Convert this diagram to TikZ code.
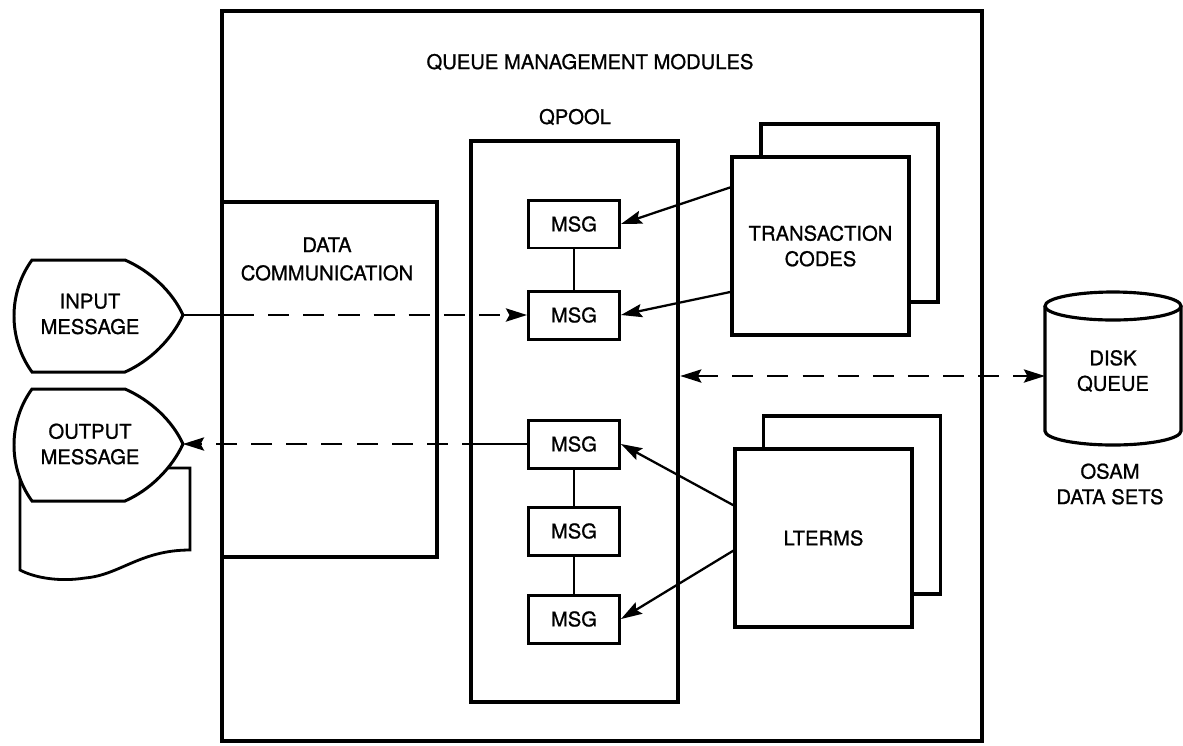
\documentclass[tikz,border=0pt]{standalone}
\usepackage{fontspec}
\setmainfont{TeX Gyre Heros}
\newfontfamily\labelfont{TeX Gyre Heros}[FakeBold=0.9]
\usepackage{tikz}
\usetikzlibrary{arrows.meta}

\begin{document}
\begin{tikzpicture}[x=0.02cm, y=-0.02cm,
    font=\labelfont\fontsize{11.5}{14.5}\selectfont,
    box/.style={draw, line width=1.8pt, inner sep=0pt},
    msgbox/.style={box, line width=1.7pt, minimum width=1.82cm, minimum height=0.96cm},
    stackbox/.style={box, line width=2pt, fill=white, minimum width=3.54cm, minimum height=3.56cm, align=center},
    headed/.style={-{Stealth[length=12pt, width=7.5pt, inset=2pt]}},
    link/.style={line width=1.3pt},
    dashlink/.style={link, dash pattern=on 12pt off 8pt}]
    \useasboundingbox (0,0) rectangle (1183,745);

    % Queue management modules
    \node[box, line width=2pt, minimum width=15.2cm, minimum height=14.6cm] (qmm) at (602,376) {};
    \node (qmmlabel) at (590,62) {QUEUE MANAGEMENT MODULES};

    % Data communication
    \node[box, line width=2.2pt, minimum width=4.3cm, minimum height=7.1cm] (dc) at (329.5,379.5) {};
    \node[align=center] (dclabel) at (327,259) {DATA\\[1.5pt]COMMUNICATION};

    % QPOOL
    \node (qpoollabel) at (575,117) {QPOOL};
    \node[box, line width=2.6pt, minimum width=4.14cm, minimum height=11.22cm] (qpool) at (574.5,421.5) {};

    % Messages
    \node[msgbox] (msga) at (574,224) {MSG};
    \node[msgbox] (msgb) at (574,315) {MSG};
    \node[msgbox] (msgc) at (574,444) {MSG};
    \node[msgbox] (msgd) at (574,531) {MSG};
    \node[msgbox] (msge) at (574,619) {MSG};
    \draw[link] (msga) -- (msgb);
    \draw[link] (msgc) -- (msgd);
    \draw[link] (msgd) -- (msge);

    % Transaction codes
    \node[stackbox] (tcback) at (849.5,213) {};
    \node[stackbox] (tc) at (820.5,246) {TRANSACTION\\CODES};
    \draw[link, headed] (tc.147) -- (msga.east);
    \draw[link, headed] (tc.207) -- (msgb.east);

    % LTERMS
    \node[stackbox] (ltback) at (852,505) {};
    \node[stackbox] (lt) at (823.5,538) {LTERMS};
    \draw[link, headed] (lt.160) -- (msgc.east);
    \draw[link, headed] (lt.188) -- (msge.east);

    % Disk queue
    \draw[line width=1.8pt, fill=white] (1045,306) -- (1045,431)
        arc[start angle=180, end angle=360, x radius=1.36cm, y radius=0.28cm] -- (1181,306);
    \coordinate (dqtop) at (1113,306);
    \draw[line width=1.8pt] (dqtop) ellipse [x radius=1.36cm, y radius=0.28cm];
    \node[align=center] (dq) at (1113,371) {DISK\\QUEUE};
    \node[align=center] (osam) at (1110,484) {OSAM\\DATA SETS};
    \coordinate (dqw) at (1045,376);
    \draw[dashlink, {Stealth[length=12pt, width=7.5pt, inset=2pt]}-{Stealth[length=12pt, width=7.5pt, inset=2pt]}]
        (qpool.east |- dqw) -- (dqw);

    % Input message
    \draw[line width=1.7pt] (32,260) -- (125,260) .. controls (150,271) and (172,291) .. (183,315) coordinate (intip)
        .. controls (172,339) and (150,361) .. (125,372) -- (32,372) .. controls (8,339) and (8,293) .. (32,260) -- cycle;
    \node[align=center] (inmsg) at (90,314) {INPUT\\MESSAGE};
    \coordinate (inbreak) at (233,315);
    \draw[link] (intip) -- (inbreak);
    \draw[dashlink, headed] (inbreak) -- (msgb.west);

    % Output message
    \draw[line width=1.6pt, fill=white] (20,468) -- (190,468) -- (190,550)
        .. controls (140,550) and (120,575) .. (85,578) .. controls (60,582) and (35,578) .. (20,570) -- cycle;
    \draw[line width=1.7pt, fill=white] (32,389) -- (125,389) .. controls (150,400) and (172,420) .. (183,444) coordinate (outtip)
        .. controls (172,468) and (150,490) .. (125,501) -- (32,501) .. controls (8,468) and (8,422) .. (32,389) -- cycle;
    \node[align=center] (outmsg) at (90,444) {OUTPUT\\MESSAGE};
    \coordinate (outbreak) at (483,444);
    \draw[link] (msgc.west) -- (outbreak);
    \draw[dashlink, headed] (outbreak) -- (outtip);
\end{tikzpicture}
\end{document}
